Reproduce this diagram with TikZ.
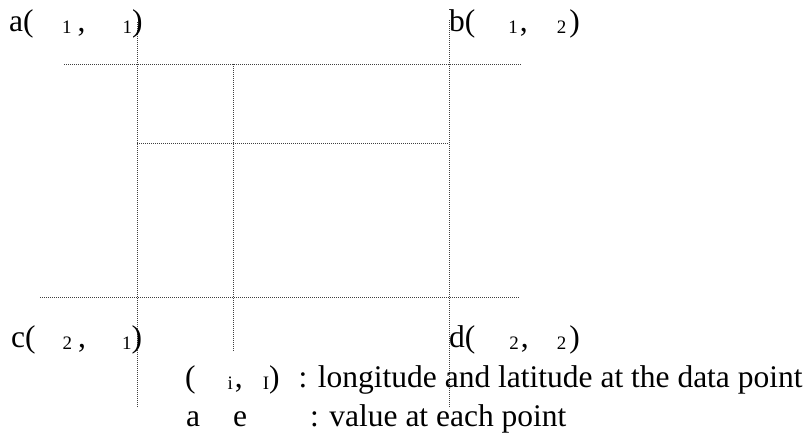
\documentclass[tikz,border=0pt]{standalone}
\usepackage{fontspec}
\setmainfont{Liberation Serif}

% small lowered index
\newcommand{\lsub}[1]{\raisebox{-2.5pt}{\fontsize{19}{19}\selectfont #1}}

\begin{document}
\begin{tikzpicture}[x=1pt, y=-1pt,
  gridline/.style={black!75, line width=0.9pt, dash pattern=on 1pt off 1pt},
  lbl/.style={anchor=base west, inner sep=0pt, font=\fontsize{31.5}{36}\selectfont}]

\useasboundingbox (0,0) rectangle (811,437);

% Grid lines
\draw[gridline] (64,64) -- (521,64);
\draw[gridline] (137,143) -- (449,143);
\draw[gridline] (40,297) -- (520,297);
\draw[gridline] (137,22) -- (137,407);
\draw[gridline] (233,64) -- (233,351);
\draw[gridline] (449,20) -- (449,407);

% Corner labels
\node[lbl] (ptA) at (9,31) {a(\hspace{28.5pt}\lsub{1}\hspace{6pt},\hspace{37pt}\lsub{1})};
\node[lbl] (ptB) at (449,31) {b(\hspace{33pt}\lsub{1}\hspace{2pt},\hspace{29pt}\lsub{2}\hspace{3pt})};
\node[lbl] (ptC) at (11,347) {c(\hspace{27pt}\lsub{2}\hspace{6pt},\hspace{36pt}\lsub{1})};
\node[lbl] (ptD) at (449,347) {d(\hspace{34pt}\lsub{2}\hspace{2pt},\hspace{28pt}\lsub{2}\hspace{3pt})};

% Legend
\node[lbl] (legPos) at (185,387) {(\hspace{32pt}\lsub{i}\hspace{2pt},\hspace{20pt}\lsub{I})\hspace{19pt}: longitude and latitude at the data point};
\node[lbl] (legVal) at (186,426) {a\hspace{33pt}e\hspace{63pt}: value at each point};

\end{tikzpicture}
\end{document}
